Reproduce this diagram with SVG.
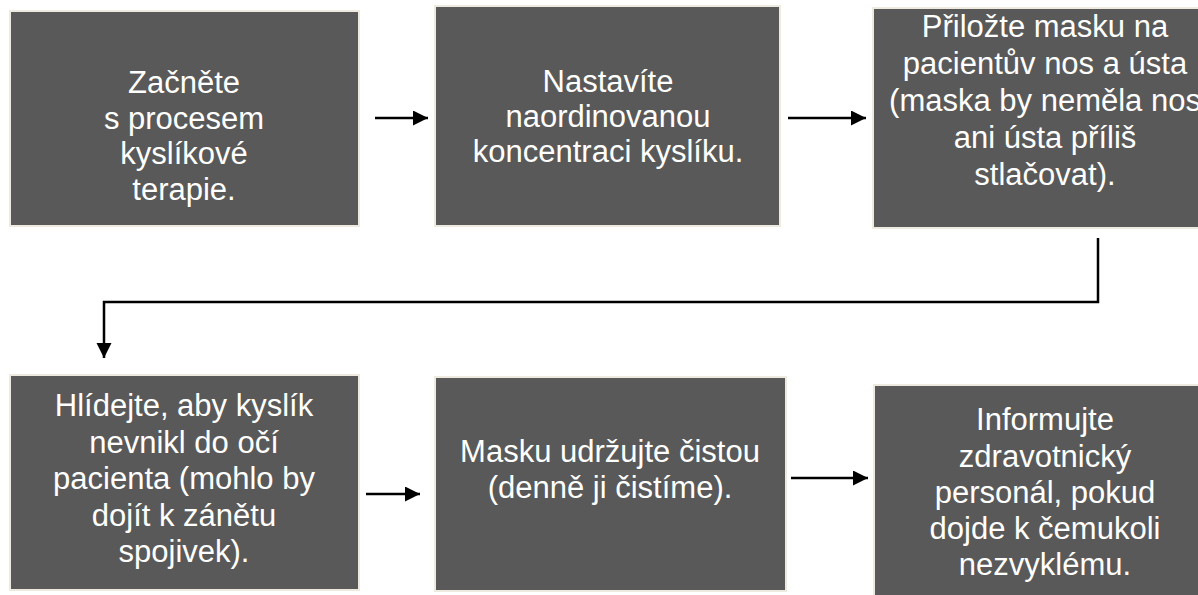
<svg xmlns="http://www.w3.org/2000/svg" width="1198" height="595" viewBox="0 0 1198 595">
<style>
.box{fill:#595959;stroke:#eeeadf;stroke-width:2}
.t{font-family:"Liberation Sans",Arial,sans-serif;font-size:31px;fill:#ffffff;text-anchor:middle}
.c{fill:none;stroke:#000;stroke-width:2.5}
</style>
<defs>
<marker id="ah" markerWidth="16" markerHeight="16" refX="15" refY="7.5" orient="auto" markerUnits="userSpaceOnUse">
<path d="M0,0 L15,7.5 L0,15 Z" fill="#000"/>
</marker>
</defs>
<rect width="1198" height="595" fill="#fff"/>
<g id="n1">
<rect class="box" x="10" y="11" width="349" height="215"/>
<text class="t" x="184" y="93">Začněte</text>
<text class="t" x="184" y="128.5">s procesem</text>
<text class="t" x="184" y="164">kyslíkové</text>
<text class="t" x="184" y="199.5">terapie.</text>
</g>
<g id="n2">
<rect class="box" x="435" y="6" width="345" height="220"/>
<text class="t" x="608" y="92">Nastavíte</text>
<text class="t" x="608" y="127">naordinovanou</text>
<text class="t" x="608" y="162">koncentraci kyslíku.</text>
</g>
<g id="n3">
<rect class="box" x="873" y="8" width="345" height="220"/>
<text class="t" x="1045" y="37">Přiložte masku na</text>
<text class="t" x="1045" y="74">pacientův nos a ústa</text>
<text class="t" x="1045" y="111">(maska by neměla nos</text>
<text class="t" x="1045" y="148">ani ústa příliš</text>
<text class="t" x="1045" y="185">stlačovat).</text>
</g>
<g id="n4">
<rect class="box" x="10" y="375" width="349" height="215"/>
<text class="t" x="184" y="416">Hlídejte, aby kyslík</text>
<text class="t" x="184" y="452.5">nevnikl do očí</text>
<text class="t" x="184" y="489">pacienta (mohlo by</text>
<text class="t" x="184" y="525.5">dojít k zánětu</text>
<text class="t" x="184" y="562">spojivek).</text>
</g>
<g id="n5">
<rect class="box" x="435" y="377" width="351" height="214"/>
<text class="t" x="610" y="462">Masku udržujte čistou</text>
<text class="t" x="610" y="498">(denně ji čistíme).</text>
</g>
<g id="n6">
<rect class="box" x="874" y="385" width="342" height="215"/>
<text class="t" x="1045" y="430">Informujte</text>
<text class="t" x="1045" y="467">zdravotnický</text>
<text class="t" x="1045" y="503">personál, pokud</text>
<text class="t" x="1045" y="539">dojde k čemukoli</text>
<text class="t" x="1045" y="575">nezvyklému.</text>
</g>
<g id="connectors">
<line class="c" x1="375" y1="118" x2="428" y2="118" marker-end="url(#ah)"/>
<line class="c" x1="788" y1="118" x2="866" y2="118" marker-end="url(#ah)"/>
<polyline class="c" points="1098,238 1098,302 104,302 104,358" marker-end="url(#ah)"/>
<line class="c" x1="366" y1="494" x2="420" y2="494" marker-end="url(#ah)"/>
<line class="c" x1="791" y1="478" x2="868" y2="478" marker-end="url(#ah)"/>
</g>
</svg>
